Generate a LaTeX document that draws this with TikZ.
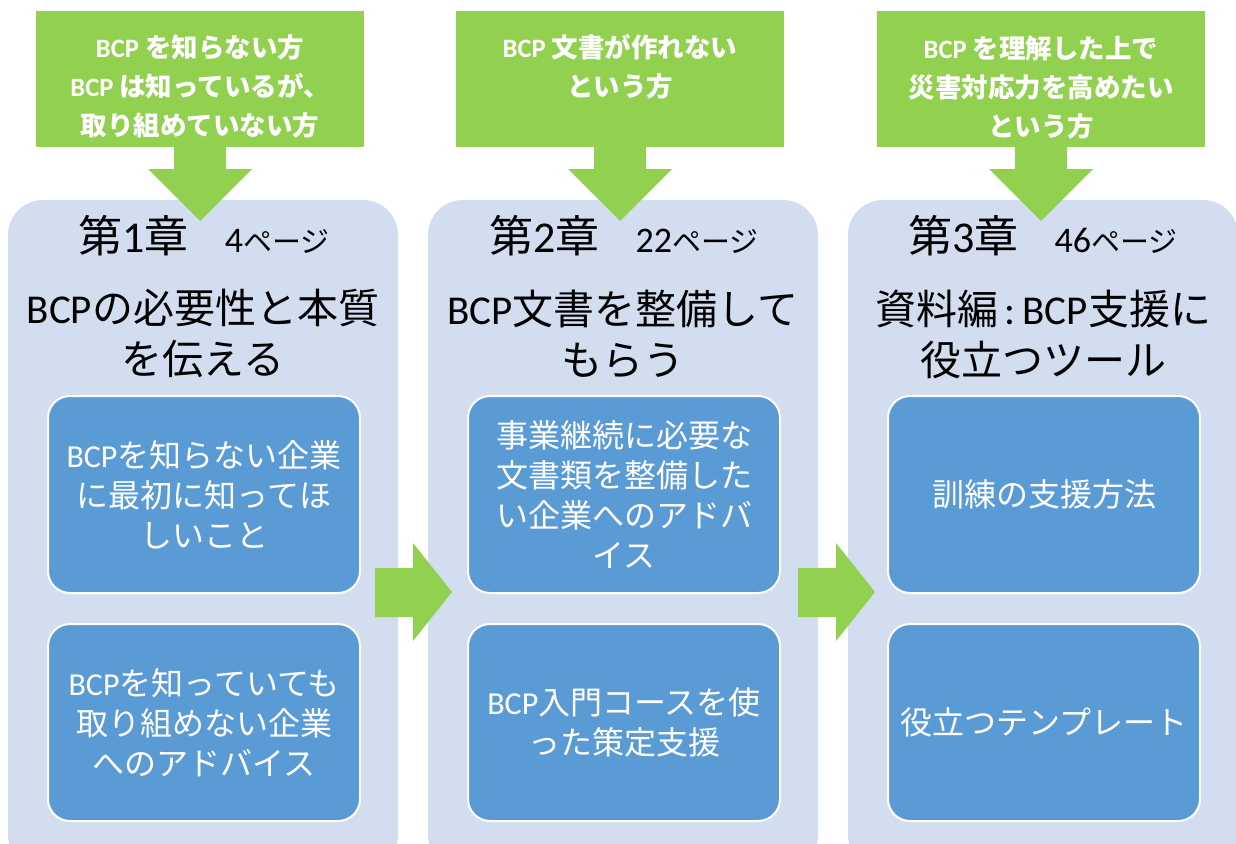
\documentclass[tikz,border=0pt]{standalone}
\usepackage{fontspec}
\setmainfont{Noto Sans CJK JP}
\newfontfamily\lat{Carlito}
\definecolor{grn}{HTML}{92D050}
\definecolor{pnl}{HTML}{D2DEEF}
\definecolor{ibx}{HTML}{5B9BD5}
\newcommand{\bcp}{{\lat BCP}}
\newcommand{\pg}[1]{{\lat\fontsize{36}{40}\selectfont #1}{\fontsize{29}{34}\selectfont ページ}}
\begin{document}
\begin{tikzpicture}[x=1pt,y=-1pt,
  callout/.style={fill=grn, draw=none, minimum width=328pt, minimum height=136pt, inner sep=0pt},
  calltext/.style={text=white, align=center, inner sep=0pt, anchor=base, font=\fontsize{26.5}{39}\selectfont\bfseries},
  panel/.style={fill=pnl, draw=none, rounded corners=35pt, minimum width=390pt, minimum height=670pt, inner sep=0pt},
  ibox/.style={fill=ibx, draw=white, line width=2pt, rounded corners=22pt, minimum width=312pt, minimum height=197pt, inner sep=0pt, text=white, align=center, font=\fontsize{32}{40}\selectfont},
  chap/.style={text=black, inner sep=0pt, anchor=base, font=\fontsize{44}{50}\selectfont},
  ttl/.style={text=black, align=center, inner sep=0pt, anchor=base, font=\fontsize{41}{51}\selectfont},
  arr/.style={fill=grn, draw=none}]
\useasboundingbox (0,0) rectangle (1236,843);
% panels
\begin{scope}
  \clip (0,0) rectangle (1236,843);
  \node[panel] (p1) at (203,535) {};
  \node[panel] (p2) at (623,535) {};
  \node[panel] (p3) at (1043,535) {};
\end{scope}
% green callouts
\node[callout] (g1) at (200,79) {};
\node[callout] (g2) at (620,79) {};
\node[callout] (g3) at (1041,79) {};
\node[calltext] (t1) at (200,135) {\bcp{} を知らない方\\\bcp{} は知っているが、\\取り組めていない方};
\node[calltext] (t2) at (620,96) {\bcp{} 文書が作れない\\という方};
\node[calltext] (t3) at (1041,136) {\bcp{} を理解した上で\\災害対応力を高めたい\\という方};
% down arrows
\foreach \c in {200,620,1041}{
  \fill[arr] (\c-26,146) -- (\c+26,146) -- (\c+26,169) -- (\c+52,169) -- (\c,221) -- (\c-52,169) -- (\c-26,169) -- cycle;
}
% right arrows
\fill[arr] (375,568) -- (413,568) -- (413,543) -- (452,592) -- (413,641) -- (413,617) -- (375,617) -- cycle;
\fill[arr] (798,568) -- (836,568) -- (836,543) -- (875,592) -- (836,641) -- (836,617) -- (798,617) -- cycle;
% chapter headings
\node[chap] (h1) at (204,252) {第{\lat 1}章\hspace{36pt}\pg{4}};
\node[chap] (h2) at (624,252) {第{\lat 2}章\hspace{36pt}\pg{22}};
\node[chap] (h3) at (1043,252) {第{\lat 3}章\hspace{36pt}\pg{46}};
% titles
\node[ttl] (c1) at (203,374) {\bcp{}の必要性と本質\\を伝える};
\node[ttl] (c2) at (623,375) {\bcp{}文書を整備して\\もらう};
\node[ttl] (c3) at (1043,375) {資料編{\lat\,:\,}\bcp{}支援に\\役立つツール};
% inner boxes
\node[ibox] (b1a) at (204,494.5) {\bcp{}を知らない企業\\に最初に知ってほ\\しいこと};
\node[ibox] (b1b) at (204,722.5) {\bcp{}を知っていても\\取り組めない企業\\へのアドバイス};
\node[ibox] (b2a) at (624,494.5) {事業継続に必要な\\文書類を整備した\\い企業へのアドバ\\イス};
\node[ibox] (b2b) at (624,722.5) {\bcp{}入門コースを使\\った策定支援};
\node[ibox] (b3a) at (1044,494.5) {訓練の支援方法};
\node[ibox] (b3b) at (1044,722.5) {役立つテンプレート};
\end{tikzpicture}
\end{document}
